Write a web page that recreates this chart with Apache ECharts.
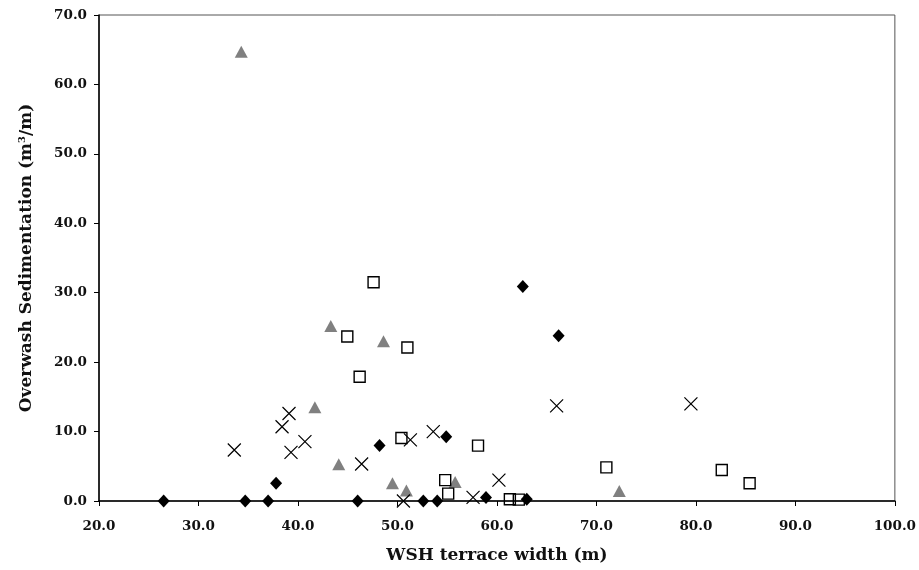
<!DOCTYPE html>
<html>
<head>
<meta charset="utf-8">
<script src="https://cdn.jsdelivr.net/npm/echarts@6/dist/echarts.min.js"></script>
<style>
  html, body { margin: 0; padding: 0; background: #ffffff; }
  #chart { width: 919px; height: 570px; }
</style>
</head>
<body>
<div id="chart"></div>
<script>
// Terrace width (m) vs. overwash sedimentation (m3/m), four site groups
const diamondX = [26.5, 34.7, 37.0, 37.8, 46.0, 48.2, 52.6, 54.0, 54.9, 58.9, 62.6, 63.0, 66.2];
const diamondY = [0.0, 0.0, 0.0, 2.55, 0.0, 8.0, 0.0, 0.0, 9.26, 0.5, 30.9, 0.25, 23.8];

const squareX = [44.96, 47.6, 46.2, 51.0, 50.4, 58.1, 54.8, 55.1, 61.3, 62.2, 71.0, 82.6, 85.4];
const squareY = [23.7, 31.5, 17.9, 22.1, 9.07, 7.97, 3.0, 1.06, 0.25, 0.2, 4.85, 4.46, 2.55];

const triangleX = [34.3, 41.7, 43.3, 44.1, 48.6, 49.5, 50.9, 55.8, 72.3];
const triangleY = [64.7, 13.5, 25.2, 5.3, 23.0, 2.55, 1.5, 2.75, 1.45];

const crossX = [33.6, 38.4, 39.1, 39.3, 40.7, 46.4, 50.6, 51.3, 53.6, 57.6, 60.2, 66.0, 79.5];
const crossY = [7.35, 10.7, 12.6, 7.0, 8.55, 5.33, 0.0, 8.8, 10.0, 0.53, 3.0, 13.7, 14.0];

const zip = (xs, ys) => xs.map((x, i) => [x, ys[i]]);

const FONT = 'DejaVu Serif';
const fmt = v => Number(v).toFixed(1);

const chart = echarts.init(document.getElementById('chart'), null, { renderer: 'canvas' });

chart.setOption({
  animation: false,
  backgroundColor: '#ffffff',
  grid: {
    left: 99, right: 24, top: 15, bottom: 69,
    show: true, borderColor: '#555555', borderWidth: 1, backgroundColor: 'transparent'
  },
  xAxis: {
    type: 'value',
    min: 20, max: 100, interval: 10,
    name: 'WSH terrace width (m)',
    nameLocation: 'middle',
    nameGap: 46,
    nameTextStyle: { fontFamily: FONT, fontWeight: 'bold', fontSize: 17, color: '#111' },
    axisLine: { show: true, onZero: false, lineStyle: { color: '#000', width: 1.5 } },
    axisTick: { show: true, inside: false, length: 5, lineStyle: { color: '#000', width: 1 } },
    axisLabel: { fontFamily: FONT, fontWeight: 'bold', fontSize: 13.5, color: '#111', margin: 18, formatter: fmt },
    splitLine: { show: false }
  },
  yAxis: {
    type: 'value',
    min: 0, max: 70, interval: 10,
    name: 'Overwash Sedimentation (m{sup|3}/m)',
    nameLocation: 'middle',
    nameGap: 63,
    nameRotate: 90,
    nameTextStyle: {
      fontFamily: FONT, fontWeight: 'bold', fontSize: 17, color: '#111',
      rich: {
        sup: { fontFamily: FONT, fontWeight: 'bold', fontSize: 10, color: '#111', verticalAlign: 'top', padding: [0, 0, 9, 0] }
      }
    },
    axisLine: { show: true, onZero: false, lineStyle: { color: '#000', width: 1.5 } },
    axisTick: { show: true, inside: false, length: 5, lineStyle: { color: '#000', width: 1 } },
    axisLabel: { fontFamily: FONT, fontWeight: 'bold', fontSize: 13.5, color: '#111', margin: 12, formatter: fmt },
    splitLine: { show: false }
  },
  series: [
    {
      name: 'Diamond',
      type: 'scatter',
      data: zip(diamondX, diamondY),
      symbol: 'diamond',
      symbolSize: [12, 13],
      itemStyle: { color: '#000000', opacity: 1 },
      z: 2
    },
    {
      name: 'Triangle',
      type: 'scatter',
      data: zip(triangleX, triangleY),
      symbol: 'triangle',
      symbolSize: [13, 12],
      itemStyle: { color: '#808080', opacity: 1 },
      z: 3
    },
    {
      name: 'Square',
      type: 'scatter',
      data: zip(squareX, squareY),
      symbol: 'rect',
      symbolSize: 11,
      itemStyle: { color: 'rgba(255,255,255,0)', borderColor: '#000000', borderWidth: 1.4, opacity: 1 },
      z: 4
    },
    {
      name: 'Cross',
      type: 'scatter',
      data: zip(crossX, crossY),
      symbol: 'path://M0,0L10,10M10,0L0,10',
      symbolSize: 13,
      itemStyle: { color: 'rgba(0,0,0,0)', borderColor: '#000000', borderWidth: 1.2, opacity: 1 },
      z: 5
    }
  ]
});
</script>
</body>
</html>
